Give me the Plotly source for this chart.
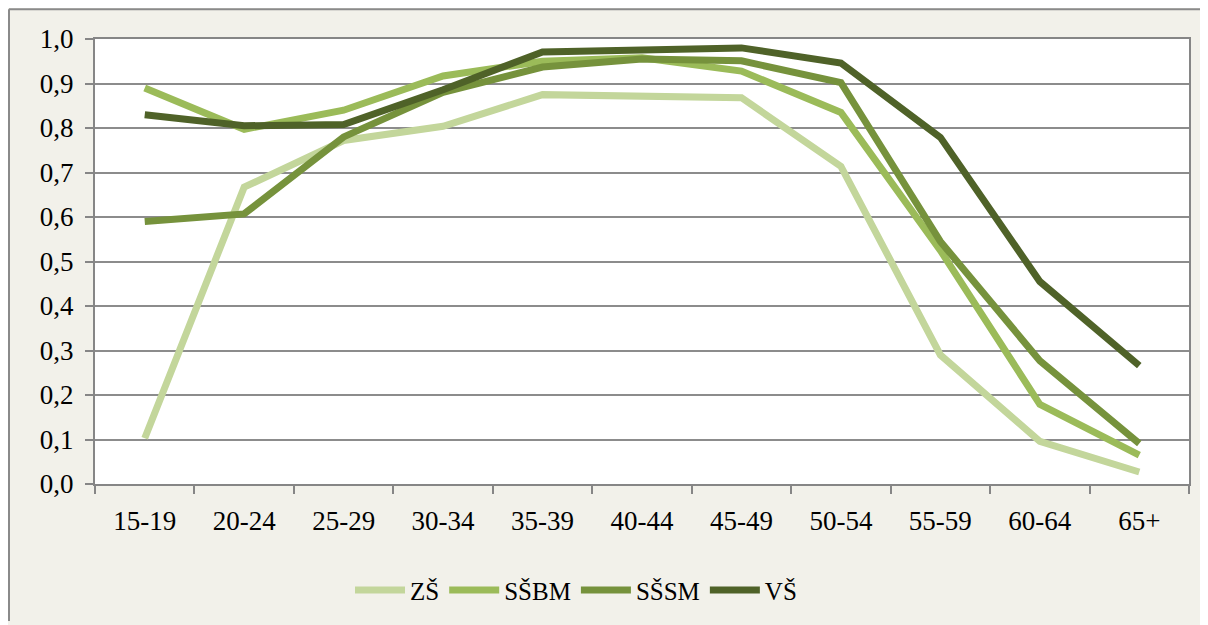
import plotly.graph_objects as go

categories = ["15-19", "20-24", "25-29", "30-34", "35-39", "40-44", "45-49", "50-54", "55-59", "60-64", "65+"]
zs = [0.103, 0.667, 0.772, 0.804, 0.875, 0.871, 0.868, 0.714, 0.290, 0.096, 0.027]
ssbm = [0.890, 0.797, 0.840, 0.917, 0.950, 0.958, 0.928, 0.835, 0.525, 0.179, 0.065]
sssm = [0.590, 0.607, 0.780, 0.880, 0.937, 0.955, 0.951, 0.902, 0.545, 0.277, 0.091]
vs = [0.830, 0.805, 0.808, 0.886, 0.971, 0.977, 0.980, 0.946, 0.779, 0.455, 0.266]
series_names = ["ZŠ", "SŠBM", "SŠSM", "VŠ"]
series_values = [zs, ssbm, sssm, vs]
series_colors = ["#c3d69b", "#9bbb59", "#76923c", "#4f6228"]
y_ticks = [i / 10 for i in range(11)]
y_tick_labels = [f"{v:.1f}".replace(".", ",") for v in y_ticks]

FONT = "Liberation Serif"
W, H = 1200, 617
L, R, T, B = 87, 19, 31, 138
PW, PH = W - L - R, H - T - B

fig = go.Figure()
for name, vals, col in zip(series_names, series_values, series_colors):
    fig.add_trace(go.Scatter(
        x=categories, y=vals, name=name, mode="lines",
        line=dict(color=col, width=7),
    ))

fig.update_layout(
    width=W, height=H,
    margin=dict(l=L, r=R, t=T, b=B),
    paper_bgcolor="#f2f1ea",
    plot_bgcolor="white",
    font=dict(family=FONT, size=27, color="black"),
    showlegend=True,
    legend=dict(
        orientation="h", x=(350 - 95) / PW, xanchor="left", y=-(594 - 487) / PH, yanchor="middle",
        font=dict(family=FONT, size=25, color="black"),
        bgcolor="rgba(0,0,0,0)", itemwidth=50, tracegroupgap=0,
    ),
    xaxis=dict(
        type="category", tickson="boundaries", ticks="outside", ticklen=8,
        tickwidth=2, tickcolor="#868686", showline=True, linecolor="#868686",
        linewidth=2, mirror=True, showgrid=False, range=[-0.5, 10.5],
        tickfont=dict(family=FONT, size=27), ticklabelstandoff=12,
    ),
    yaxis=dict(
        range=[0, 1.0], tickvals=y_ticks, ticktext=y_tick_labels,
        ticks="outside", ticklen=8, tickwidth=2, tickcolor="#868686",
        showline=True, linecolor="#868686", linewidth=2, mirror=True,
        showgrid=True, gridcolor="#8c8c8c", gridwidth=2, zeroline=False,
        tickfont=dict(family=FONT, size=27), ticklabelstandoff=6,
    ),
    shapes=[
        dict(type="line", xref="paper", yref="paper",
             x0=-(L - 1) / PW, x1=-(L - 1) / PW, y0=-B / PH, y1=(PH + T - 1) / PH,
             line=dict(color="#8a8a8a", width=2), layer="below"),
        dict(type="line", xref="paper", yref="paper",
             x0=-(L - 1) / PW, x1=(PW + R) / PW, y0=(PH + T - 1) / PH, y1=(PH + T - 1) / PH,
             line=dict(color="#8a8a8a", width=2), layer="below"),
    ],
)

fig.write_html("out.html")
